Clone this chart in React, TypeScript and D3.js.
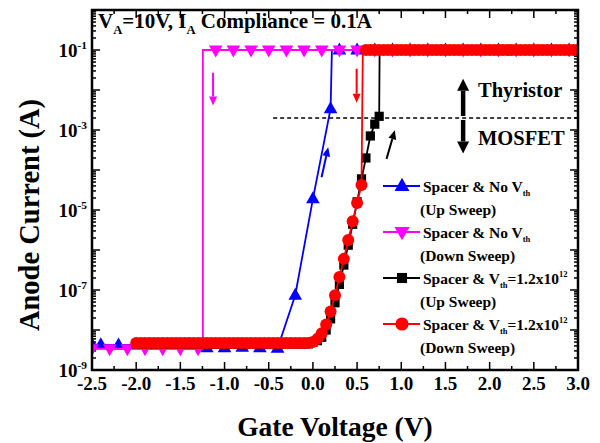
import React, { useRef, useEffect } from "react";
import * as d3 from "d3";

// ---- data ----
const xTickValues = [-2.5, -2.0, -1.5, -1.0, -0.5, 0.0, 0.5, 1.0, 1.5, 2.0, 2.5, 3.0];
const yLabelExps = [-9, -7, -5, -3, -1];

// Spacer & No Vth, up sweep (blue)
const upNoVthV = [-2.5, -2.4, -2.2, -2.0, -1.8, -1.6, -1.4, -1.2, -1.0, -0.8,
  -0.6, -0.4, -0.2, 0.0, 0.2, 0.215, 0.3, 0.5, 0.7, 0.9,
  1.1, 1.3, 1.5, 1.7, 1.9, 2.1, 2.3, 2.5, 2.7, 2.9];
const upNoVthI = [4.3e-9, 4.3e-9, 4.2e-9, 4.3e-9, 4.2e-9, 4.3e-9, 4.2e-9, 3.6e-9, 3.6e-9, 3.7e-9,
  3.6e-9, 3.5e-9, 7.4e-8, 1.9e-5, 3.4e-3, 0.1, 0.1, 0.1, 0.1, 0.1,
  0.1, 0.1, 0.1, 0.1, 0.1, 0.1, 0.1, 0.1, 0.1, 0.1];

// Spacer & No Vth, down sweep (magenta)
const downNoVthV = [-2.5, -2.3, -2.1, -1.9, -1.7, -1.5, -1.3, -1.245, -1.245, -1.1,
  -0.9, -0.7, -0.5, -0.3, -0.1, 0.1, 0.3, 0.5, 0.7, 0.9,
  1.1, 1.3, 1.5, 1.7, 1.9, 2.1, 2.3, 2.5, 2.7, 2.9];
const downNoVthI = [3.4e-9, 3.4e-9, 3.4e-9, 3.4e-9, 3.4e-9, 3.4e-9, 3.4e-9, 3.4e-9, 0.1, 0.1,
  0.1, 0.1, 0.1, 0.1, 0.1, 0.1, 0.1, 0.1, 0.1, 0.1,
  0.1, 0.1, 0.1, 0.1, 0.1, 0.1, 0.1, 0.1, 0.1, 0.1];

// Spacer & Vth=1.2x10^12, up sweep (black)
const upVthV = [-2.00, -1.95, -1.90, -1.85, -1.80, -1.75, -1.70, -1.65, -1.60, -1.55,
  -1.50, -1.45, -1.40, -1.35, -1.30, -1.25, -1.20, -1.15, -1.10, -1.05,
  -1.00, -0.95, -0.90, -0.85, -0.80, -0.75, -0.70, -0.65, -0.60, -0.55,
  -0.50, -0.45, -0.40, -0.35, -0.30, -0.25, -0.20, -0.15, -0.10, -0.05,
  0.00, 0.05, 0.10, 0.15, 0.20, 0.25, 0.30, 0.35, 0.40, 0.45,
  0.50, 0.55, 0.60, 0.65, 0.70, 0.75, 0.755, 0.80, 0.85, 0.90,
  0.95, 1.00, 1.05, 1.10, 1.15, 1.20, 1.25, 1.30, 1.35, 1.40,
  1.45, 1.50, 1.55, 1.60, 1.65, 1.70, 1.75, 1.80, 1.85, 1.90,
  1.95, 2.00, 2.05, 2.10, 2.15, 2.20, 2.25, 2.30, 2.35, 2.40,
  2.45, 2.50, 2.55, 2.60, 2.65, 2.70, 2.75, 2.80, 2.85, 2.90,
  2.95, 3.00];
const upVthI = [4.5e-9, 4.5e-9, 4.5e-9, 4.5e-9, 4.5e-9, 4.5e-9, 4.5e-9, 4.5e-9, 4.5e-9, 4.5e-9,
  4.5e-9, 4.5e-9, 4.5e-9, 4.5e-9, 4.5e-9, 4.5e-9, 4.5e-9, 4.5e-9, 4.5e-9, 4.5e-9,
  4.5e-9, 4.5e-9, 4.5e-9, 4.5e-9, 4.5e-9, 4.5e-9, 4.5e-9, 4.5e-9, 4.5e-9, 4.5e-9,
  4.5e-9, 4.5e-9, 4.5e-9, 4.5e-9, 4.5e-9, 4.5e-9, 4.5e-9, 4.5e-9, 4.5e-9, 4.5e-9,
  4.9e-9, 5.4e-9, 6.6e-9, 1.0e-8, 1.9e-8, 4.8e-8, 1.38e-7, 4.2e-7, 1.32e-6, 4.4e-6,
  1.6e-5, 6.0e-5, 2.0e-4, 7.1e-4, 1.4e-3, 2.2e-3, 0.1, 0.1, 0.1, 0.1,
  0.1, 0.1, 0.1, 0.1, 0.1, 0.1, 0.1, 0.1, 0.1, 0.1,
  0.1, 0.1, 0.1, 0.1, 0.1, 0.1, 0.1, 0.1, 0.1, 0.1,
  0.1, 0.1, 0.1, 0.1, 0.1, 0.1, 0.1, 0.1, 0.1, 0.1,
  0.1, 0.1, 0.1, 0.1, 0.1, 0.1, 0.1, 0.1, 0.1, 0.1,
  0.1, 0.1];

// Spacer & Vth=1.2x10^12, down sweep (red)
const downVthV = [-2.00, -1.95, -1.90, -1.85, -1.80, -1.75, -1.70, -1.65, -1.60, -1.55,
  -1.50, -1.45, -1.40, -1.35, -1.30, -1.25, -1.20, -1.15, -1.10, -1.05,
  -1.00, -0.95, -0.90, -0.85, -0.80, -0.75, -0.70, -0.65, -0.60, -0.55,
  -0.50, -0.45, -0.40, -0.35, -0.30, -0.25, -0.20, -0.15, -0.10, -0.05,
  0.00, 0.05, 0.10, 0.15, 0.20, 0.25, 0.30, 0.35, 0.40, 0.45,
  0.50, 0.55, 0.565, 0.60, 0.65, 0.70, 0.75, 0.80, 0.85, 0.90,
  0.95, 1.00, 1.05, 1.10, 1.15, 1.20, 1.25, 1.30, 1.35, 1.40,
  1.45, 1.50, 1.55, 1.60, 1.65, 1.70, 1.75, 1.80, 1.85, 1.90,
  1.95, 2.00, 2.05, 2.10, 2.15, 2.20, 2.25, 2.30, 2.35, 2.40,
  2.45, 2.50, 2.55, 2.60, 2.65, 2.70, 2.75, 2.80, 2.85, 2.90,
  2.95, 3.00];
const downVthI = [4.7e-9, 4.7e-9, 4.7e-9, 4.7e-9, 4.7e-9, 4.7e-9, 4.7e-9, 4.7e-9, 4.7e-9, 4.7e-9,
  4.7e-9, 4.7e-9, 4.7e-9, 4.7e-9, 4.7e-9, 4.7e-9, 4.7e-9, 4.7e-9, 4.7e-9, 4.7e-9,
  4.7e-9, 4.7e-9, 4.7e-9, 4.7e-9, 4.7e-9, 4.7e-9, 4.7e-9, 4.7e-9, 4.7e-9, 4.7e-9,
  4.7e-9, 4.7e-9, 4.7e-9, 4.7e-9, 4.7e-9, 4.7e-9, 4.7e-9, 4.7e-9, 4.7e-9, 4.7e-9,
  5.0e-9, 6.0e-9, 8.3e-9, 1.38e-8, 2.9e-8, 7.4e-8, 2.1e-7, 6.0e-7, 1.78e-6, 5.2e-6,
  1.5e-5, 4.2e-5, 0.1, 0.1, 0.1, 0.1, 0.1, 0.1, 0.1, 0.1,
  0.1, 0.1, 0.1, 0.1, 0.1, 0.1, 0.1, 0.1, 0.1, 0.1,
  0.1, 0.1, 0.1, 0.1, 0.1, 0.1, 0.1, 0.1, 0.1, 0.1,
  0.1, 0.1, 0.1, 0.1, 0.1, 0.1, 0.1, 0.1, 0.1, 0.1,
  0.1, 0.1, 0.1, 0.1, 0.1, 0.1, 0.1, 0.1, 0.1, 0.1,
  0.1, 0.1];

const boundaryCurrent = 2e-3; // thyristor / MOSFET line

const FONT = "Liberation Serif, Times New Roman, serif";

type Part = { t: string; sub?: boolean; sup?: boolean };

const series = [
  { v: upNoVthV, i: upNoVthI, color: "#0000ff", shape: "up",
    label: [{ t: "Spacer & No V" }, { t: "th", sub: true }], label2: "(Up Sweep)" },
  { v: downNoVthV, i: downNoVthI, color: "#ff00ff", shape: "down",
    label: [{ t: "Spacer & No V" }, { t: "th", sub: true }], label2: "(Down Sweep)" },
  { v: upVthV, i: upVthI, color: "#000000", shape: "square",
    label: [{ t: "Spacer & V" }, { t: "th", sub: true }, { t: "=1.2x10" }, { t: "12", sup: true }], label2: "(Up Sweep)" },
  { v: downVthV, i: downVthI, color: "#ff0000", shape: "circle",
    label: [{ t: "Spacer & V" }, { t: "th", sub: true }, { t: "=1.2x10" }, { t: "12", sup: true }], label2: "(Down Sweep)" },
];

// points off the sweep grid are the vertical jumps, drawn without marker
const isSweepStep = (v: number) => Math.abs(v * 20 - Math.round(v * 20)) < 1e-6;

function markerPath(shape: string) {
  if (shape === "up") return "M0,-7.5L6.8,4.5L-6.8,4.5Z";
  if (shape === "down") return "M0,7.5L6.8,-4.5L-6.8,-4.5Z";
  if (shape === "square") return "M-4.6,-4.6H4.6V4.6H-4.6Z";
  const r = 6;
  return `M${r},0A${r},${r} 0 1,1 ${-r},0A${r},${r} 0 1,1 ${r},0Z`;
}

function richText(g: any, x: number, y: number, parts: Part[], size: number, anchor = "start", small = 0.6) {
  const t = g.append("text")
    .attr("x", x).attr("y", y)
    .style("font-size", size + "px")
    .attr("text-anchor", anchor)
    .style("white-space", "pre");
  let shift = 0;
  parts.forEach(p => {
    const target = p.sub ? size * 0.28 : p.sup ? -size * 0.42 : 0;
    const ts = t.append("tspan").text(p.t).attr("dy", target - shift);
    if (p.sub || p.sup) ts.style("font-size", size * small + "px");
    shift = target;
  });
  return t;
}

function arrow(g: any, x1: number, y1: number, x2: number, y2: number, w: number, headLen: number, headW: number) {
  const a = Math.atan2(y2 - y1, x2 - x1);
  const bx = x2 - headLen * Math.cos(a), by = y2 - headLen * Math.sin(a);
  g.append("line")
    .attr("x1", x1).attr("y1", y1).attr("x2", bx).attr("y2", by)
    .attr("stroke", g.attr("data-color")).attr("stroke-width", w);
  const px = -Math.sin(a) * headW / 2, py = Math.cos(a) * headW / 2;
  g.append("path")
    .attr("d", `M${x2},${y2}L${bx + px},${by + py}L${bx - px},${by - py}Z`)
    .attr("fill", g.attr("data-color"));
}

export default function App() {
  const ref = useRef<SVGSVGElement>(null);

  useEffect(() => {
    const width = 600, height = 443;
    const left = 92, right = 578, top = 10, bottom = 370;

    const x = d3.scaleLinear().domain([-2.5, 3.0]).range([left, right]);
    const y = d3.scaleLog().domain([1e-9, 1]).range([bottom, top]);

    const svg = d3.select(ref.current)
      .attr("width", width).attr("height", height)
      .style("font-family", FONT).style("font-weight", "bold");
    svg.selectAll("*").remove();

    svg.append("rect").attr("width", width).attr("height", height).attr("fill", "#fff");

    svg.append("defs").append("clipPath").attr("id", "plot-clip")
      .append("rect").attr("x", left).attr("y", top)
      .attr("width", right - left).attr("height", bottom - top);

    // ticks
    const ticks = svg.append("g").attr("stroke", "#000").attr("stroke-width", 1.5);
    const xMinor = xTickValues.slice(0, -1).map(d => d + 0.25);
    xTickValues.forEach(d => {
      ticks.append("line").attr("x1", x(d)).attr("x2", x(d)).attr("y1", bottom).attr("y2", bottom - 8);
      ticks.append("line").attr("x1", x(d)).attr("x2", x(d)).attr("y1", top).attr("y2", top + 8);
    });
    xMinor.forEach(d => {
      ticks.append("line").attr("x1", x(d)).attr("x2", x(d)).attr("y1", bottom).attr("y2", bottom - 4);
      ticks.append("line").attr("x1", x(d)).attr("x2", x(d)).attr("y1", top).attr("y2", top + 4);
    });
    y.ticks().forEach(d => {
      const major = Math.abs(Math.log10(d) - Math.round(Math.log10(d))) < 1e-9;
      const len = major ? 8 : 4;
      ticks.append("line").attr("x1", left).attr("x2", left + len).attr("y1", y(d)).attr("y2", y(d));
      ticks.append("line").attr("x1", right).attr("x2", right - len).attr("y1", y(d)).attr("y2", y(d));
    });

    // tick labels
    xTickValues.forEach(d => {
      svg.append("text")
        .attr("x", x(d)).attr("y", 390)
        .attr("text-anchor", "middle").style("font-size", "19px")
        .text(d3.format(".1f")(d).replace("−", "-"));
    });
    yLabelExps.forEach(e => {
      richText(svg, 87, y(Math.pow(10, e)) + 7, [{ t: "10" }, { t: String(e), sup: true }], 19, "end");
    });

    // axis titles
    svg.append("text")
      .attr("x", 335).attr("y", 436)
      .attr("text-anchor", "middle").style("font-size", "27.5px")
      .text("Gate Voltage (V)");
    svg.append("text")
      .attr("transform", "translate(39,215) rotate(-90)")
      .attr("text-anchor", "middle").style("font-size", "28.5px")
      .text("Anode Current (A)");

    // curves
    const plot = svg.append("g").attr("clip-path", "url(#plot-clip)");
    series.forEach(s => {
      const pts = s.v.map((v, k) => [v, s.i[k]] as [number, number]);
      plot.append("path")
        .attr("d", d3.line().x(p => x(p[0])).y(p => y(p[1]))(pts))
        .attr("fill", "none").attr("stroke", s.color).attr("stroke-width", 1.8);
      plot.append("g").selectAll("path")
        .data(pts.filter(p => isSweepStep(p[0])))
        .enter().append("path")
        .attr("transform", p => `translate(${x(p[0])},${y(p[1])})`)
        .attr("d", markerPath(s.shape))
        .attr("fill", s.color);
    });

    // thyristor / MOSFET boundary
    svg.append("line")
      .attr("x1", x(-0.45)).attr("x2", right)
      .attr("y1", y(boundaryCurrent)).attr("y2", y(boundaryCurrent))
      .attr("stroke", "#000").attr("stroke-width", 1.5).attr("stroke-dasharray", "4,3");

    const big = svg.append("g").attr("data-color", "#000");
    arrow(big, x(1.7), y(boundaryCurrent) - 2, x(1.7), y(1.9e-2), 4.5, 12, 12);
    arrow(big, x(1.7), y(boundaryCurrent) + 2, x(1.7), y(2.6e-4), 4.5, 12, 12);
    svg.append("text").attr("x", 478).attr("y", 97).style("font-size", "20.5px").text("Thyristor");
    svg.append("text").attr("x", 478).attr("y", 145).style("font-size", "20.5px").text("MOSFET");

    // sweep direction arrows
    const mArrow = svg.append("g").attr("data-color", "#ff00ff");
    arrow(mArrow, x(-1.13), y(2.7e-2), x(-1.13), y(4.1e-3), 2, 9, 8);
    const rArrow = svg.append("g").attr("data-color", "#ff0000");
    arrow(rArrow, x(0.495), y(3.4e-2), x(0.495), y(4.8e-3), 2, 9, 8);
    const bArrow = svg.append("g").attr("data-color", "#0000ff");
    arrow(bArrow, x(0.098), y(6.6e-5), x(0.173), y(3.7e-4), 2, 9, 8);
    const kArrow = svg.append("g").attr("data-color", "#000");
    arrow(kArrow, x(0.833), y(1.9e-4), x(0.927), y(9.8e-4), 2, 9, 8);

    // title
    richText(svg, 98, 28, [
      { t: "V" }, { t: "A", sub: true }, { t: "=10V, I" }, { t: "A", sub: true }, { t: " Compliance = 0.1A" },
    ], 21);

    // legend
    series.forEach((s, k) => {
      const ly = 186 + k * 46;
      const lg = svg.append("g");
      lg.append("line").attr("x1", 383).attr("x2", 420).attr("y1", ly).attr("y2", ly)
        .attr("stroke", s.color).attr("stroke-width", 1.8);
      lg.append("path").attr("transform", `translate(402,${ly}) scale(1.1)`)
        .attr("d", markerPath(s.shape)).attr("fill", s.color);
      richText(lg, 423, ly + 6, s.label as Part[], 15.5, "start", 0.55);
      lg.append("text").attr("x", 420).attr("y", ly + 29).style("font-size", "15.5px").text(s.label2);
    });

    // frame
    svg.append("rect")
      .attr("x", left).attr("y", top)
      .attr("width", right - left).attr("height", bottom - top)
      .attr("fill", "none").attr("stroke", "#000").attr("stroke-width", 2.5);
  }, []);

  return (
    <svg ref={ref} style={{ position: "absolute", left: 0, top: 0, display: "block" }} />
  );
}
